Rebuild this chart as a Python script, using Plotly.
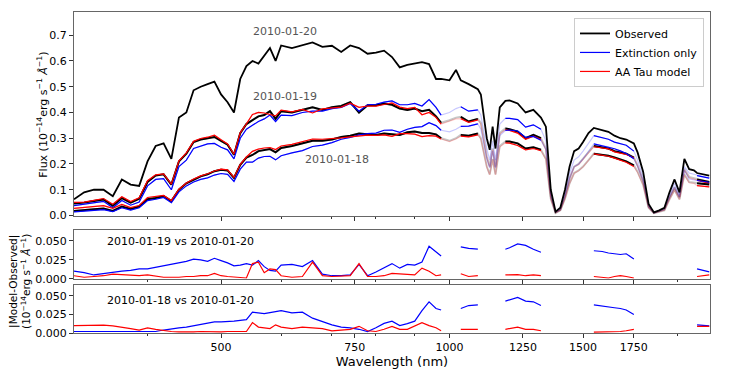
import math
import plotly.graph_objects as go

wavelength = [320, 330, 340, 350, 360, 370, 380, 390, 400, 410,
              420, 430, 440, 450, 460, 470, 480, 490, 500, 510,
              520, 530, 540, 550, 560, 570, 580, 590, 600, 620,
              640, 660, 680, 700, 720, 740, 760, 780, 800, 820,
              840, 860, 880, 900, 920, 940, 960, 975, 1000, 1020,
              1035, 1060, 1090, 1100, 1120, 1130, 1140, 1150, 1165, 1185,
              1200, 1230, 1260, 1290, 1320, 1340, 1360, 1380, 1400, 1420,
              1440, 1460, 1480, 1500, 1525, 1550, 1590, 1620, 1650, 1680,
              1710, 1750, 1770, 1800, 1830, 1860, 1890, 1920, 1950, 1980,
              2010, 2040, 2070, 2100, 2120, 2160, 2200]

# observed spectra
obs_0120 = [0.063, 0.09, 0.10, 0.10, 0.075, 0.14, 0.12, 0.115, 0.21, 0.27,
            0.28, 0.22, 0.38, 0.40, 0.486, 0.50, 0.51, 0.52, 0.47, 0.44,
            0.40, 0.53, 0.58, 0.60, 0.59, 0.62, 0.65, 0.60, 0.66, 0.65,
            0.66, 0.672, 0.655, 0.659, 0.635, 0.66, 0.65, 0.628, 0.632, 0.64,
            0.615, 0.575, 0.585, 0.59, 0.595, 0.588, 0.53, 0.53, 0.525, 0.565,
            0.525, 0.51, 0.49, 0.47, 0.30, 0.255, 0.345, 0.26, 0.42, 0.445,
            0.447, 0.435, 0.40, 0.41, 0.38, 0.345, 0.10, 0.015, 0.03, 0.10,
            0.19, 0.25, 0.26, 0.285, 0.32, 0.34, 0.33, 0.325, 0.31, 0.30,
            0.295, 0.28, 0.245, 0.17, 0.045, 0.012, 0.02, 0.03, 0.09, 0.14,
            0.09, 0.22, 0.18, 0.175, 0.165, 0.16, 0.155]
obs_0119 = [0.047, 0.05, 0.056, 0.062, 0.038, 0.068, 0.05, 0.065, 0.13, 0.155,
            0.16, 0.12, 0.21, 0.24, 0.285, 0.295, 0.30, 0.305, 0.29, 0.275,
            0.236, 0.32, 0.355, 0.37, 0.385, 0.39, 0.405, 0.375, 0.405, 0.40,
            0.41, 0.42, 0.41, 0.42, 0.425, 0.44, 0.40, 0.428, 0.428, 0.435,
            0.43, 0.415, 0.41, 0.415, 0.405, 0.41, 0.385, 0.36, 0.37, 0.38,
            0.383, 0.365, 0.375, 0.36, 0.23, 0.19, 0.26, 0.19, 0.32, 0.338,
            0.335, 0.326, 0.30, 0.313, 0.30, 0.26, 0.075, 0.012, 0.022, 0.075,
            0.145, 0.19, 0.20, 0.22, 0.245, 0.27, 0.265, 0.26, 0.25, 0.245,
            0.24, 0.225, 0.195, 0.135, 0.035, 0.01, 0.016, 0.024, 0.072, 0.11,
            0.072, 0.18, 0.15, 0.145, 0.14, 0.135, 0.13]
obs_0118 = [0.018, 0.02, 0.024, 0.027, 0.018, 0.035, 0.025, 0.035, 0.063, 0.068,
            0.075, 0.056, 0.10, 0.125, 0.14, 0.152, 0.16, 0.172, 0.178, 0.175,
            0.146, 0.197, 0.225, 0.235, 0.25, 0.255, 0.258, 0.245, 0.262, 0.27,
            0.28, 0.29, 0.29, 0.295, 0.305, 0.31, 0.318, 0.315, 0.313, 0.318,
            0.316, 0.313, 0.323, 0.326, 0.32, 0.32, 0.315, 0.30, 0.29, 0.30,
            0.313, 0.31, 0.318, 0.30, 0.19, 0.16, 0.22, 0.16, 0.27, 0.287,
            0.287, 0.28, 0.26, 0.265, 0.255, 0.22, 0.065, 0.01, 0.02, 0.065,
            0.125, 0.165, 0.175, 0.19, 0.215, 0.24, 0.235, 0.232, 0.225, 0.218,
            0.21, 0.195, 0.17, 0.12, 0.03, 0.009, 0.014, 0.02, 0.063, 0.10,
            0.063, 0.16, 0.13, 0.128, 0.125, 0.122, 0.12]

# extinction-only models
ext_0119 = [0.038, 0.043, 0.05, 0.055, 0.03, 0.058, 0.04, 0.052, 0.115, 0.14,
            0.143, 0.10, 0.19, 0.215, 0.26, 0.27, 0.278, 0.28, 0.265, 0.255,
            0.22, 0.30, 0.335, 0.35, 0.365, 0.375, 0.39, 0.365, 0.39, 0.388,
            0.40, 0.405, 0.405, 0.415, 0.42, 0.435, 0.405, 0.43, 0.432, 0.44,
            0.445, 0.43, 0.43, 0.435, 0.425, 0.45, 0.42, 0.39, 0.40, 0.415,
            0.422, 0.405, 0.41, 0.39, 0.26, 0.215, 0.29, 0.215, 0.355, 0.377,
            0.377, 0.372, 0.343, 0.352, 0.335, 0.29, 0.085, 0.013, 0.025, 0.085,
            0.165, 0.215, 0.228, 0.25, 0.28, 0.31, 0.302, 0.296, 0.285, 0.278,
            0.273, 0.25, 0.215, 0.15, 0.04, 0.011, 0.018, 0.027, 0.08, 0.125,
            0.08, 0.19, 0.165, 0.16, 0.155, 0.15, 0.145]
ext_0118 = [0.014, 0.016, 0.02, 0.023, 0.015, 0.03, 0.021, 0.03, 0.058, 0.063,
            0.07, 0.05, 0.092, 0.115, 0.13, 0.14, 0.146, 0.157, 0.163, 0.16,
            0.132, 0.18, 0.207, 0.207, 0.223, 0.229, 0.23, 0.216, 0.232, 0.243,
            0.252, 0.268, 0.273, 0.283, 0.296, 0.303, 0.313, 0.318, 0.32, 0.331,
            0.332, 0.323, 0.335, 0.342, 0.345, 0.36, 0.349, 0.331, 0.325, 0.335,
            0.346, 0.347, 0.356, 0.335, 0.22, 0.185, 0.25, 0.185, 0.31, 0.33,
            0.332, 0.328, 0.303, 0.307, 0.292, 0.255, 0.075, 0.012, 0.022, 0.075,
            0.145, 0.19, 0.20, 0.22, 0.248, 0.278, 0.271, 0.267, 0.259, 0.251,
            0.241, 0.22, 0.19, 0.135, 0.034, 0.01, 0.016, 0.023, 0.071, 0.112,
            0.071, 0.176, 0.142, 0.14, 0.136, 0.132, 0.129]

# AA Tau models
aatau_0119 = [0.051, 0.052, 0.059, 0.066, 0.044, 0.073, 0.054, 0.069, 0.135, 0.158,
              0.162, 0.122, 0.212, 0.243, 0.288, 0.299, 0.304, 0.312, 0.294, 0.278,
              0.238, 0.322, 0.356, 0.392, 0.40, 0.398, 0.392, 0.387, 0.409, 0.402,
              0.412, 0.398, 0.414, 0.417, 0.421, 0.436, 0.42, 0.425, 0.425, 0.431,
              0.437, 0.421, 0.415, 0.42, 0.391, 0.40, 0.381, 0.355, 0.365, 0.375,
              0.376, 0.362, 0.371, 0.355, 0.226, 0.187, 0.256, 0.187, 0.316, 0.333,
              0.33, 0.32, 0.296, 0.308, 0.296, 0.256, 0.074, 0.012, 0.022, 0.074,
              0.143, 0.188, 0.198, 0.218, 0.243, 0.267, 0.263, 0.259, 0.247, 0.241,
              0.237, 0.224, 0.193, 0.133, 0.034, 0.01, 0.016, 0.024, 0.071, 0.108,
              0.071, 0.177, 0.146, 0.141, 0.137, 0.131, 0.125]
aatau_0118 = [0.028, 0.031, 0.035, 0.038, 0.028, 0.043, 0.031, 0.039, 0.07, 0.073,
              0.078, 0.058, 0.102, 0.126, 0.142, 0.154, 0.162, 0.173, 0.18, 0.177,
              0.148, 0.199, 0.227, 0.249, 0.258, 0.262, 0.264, 0.256, 0.27, 0.276,
              0.288, 0.297, 0.296, 0.298, 0.301, 0.305, 0.309, 0.312, 0.311, 0.313,
              0.307, 0.318, 0.318, 0.316, 0.306, 0.31, 0.308, 0.297, 0.287, 0.297,
              0.308, 0.305, 0.313, 0.297, 0.188, 0.158, 0.218, 0.158, 0.266, 0.282,
              0.281, 0.272, 0.255, 0.26, 0.252, 0.218, 0.064, 0.01, 0.02, 0.064,
              0.124, 0.164, 0.174, 0.189, 0.214, 0.239, 0.234, 0.23, 0.223, 0.216,
              0.207, 0.19, 0.167, 0.118, 0.03, 0.009, 0.014, 0.02, 0.062, 0.098,
              0.062, 0.157, 0.127, 0.125, 0.116, 0.113, 0.111]

# |model - observed| residuals (None = masked telluric region)
N = None
res19_ext = [0.010, 0.008, 0.005, 0.007, 0.009, 0.010, 0.011, 0.013, 0.013, 0.015,
             0.017, 0.019, 0.021, 0.023, 0.026, 0.025, 0.023, 0.027, 0.024, 0.021,
             0.017, 0.018, 0.020, 0.018, 0.024, 0.016, 0.011, 0.010, 0.018, 0.019,
             0.016, 0.024, 0.006, 0.004, 0.004, 0.005, 0.019, 0.004, 0.009, 0.015,
             0.020, 0.014, 0.019, 0.018, 0.022, 0.043, 0.036, 0.030, N, N,
             0.042, 0.040, 0.039, N, N, N, N, N, N, 0.039,
             0.041, 0.046, 0.044, 0.039, 0.035, N, N, N, N, N,
             N, N, N, N, N, 0.037, 0.036, 0.034, 0.033, 0.032,
             0.033, 0.026, N, N, N, N, N, N, N, N,
             N, N, N, N, 0.013, 0.011, 0.009]
res19_aatau = [0.004, 0.002, 0.003, 0.004, 0.006, 0.005, 0.004, 0.004, 0.005, 0.003,
               0.002, 0.002, 0.002, 0.003, 0.003, 0.004, 0.004, 0.007, 0.004, 0.003,
               0.002, 0.002, 0.001, 0.020, 0.022, 0.008, 0.013, 0.012, 0.004, 0.002,
               0.003, 0.022, 0.004, 0.003, 0.004, 0.004, 0.020, 0.003, 0.003, 0.004,
               0.007, 0.006, 0.005, 0.005, 0.014, 0.010, 0.004, 0.005, N, N,
               0.0066, 0.003, 0.004, N, N, N, N, N, N, 0.005,
               0.005, 0.0055, 0.004, 0.005, 0.004, N, N, N, N, N,
               N, N, N, N, N, 0.003, 0.002, 0.001, 0.003, 0.004,
               0.003, 0.001, N, N, N, N, N, N, N, N,
               N, N, N, N, 0.003, 0.004, 0.005]
res18_ext = [0.002, 0.002, 0.002, 0.002, 0.002, 0.002, 0.002, 0.002, 0.0015, 0.002,
             0.004, 0.006, 0.007, 0.008, 0.010, 0.012, 0.014, 0.015, 0.015, 0.015,
             0.016, 0.017, 0.018, 0.028, 0.027, 0.026, 0.0275, 0.029, 0.030, 0.027,
             0.028, 0.020, 0.015, 0.011, 0.008, 0.007, 0.005, 0.002, 0.007, 0.013,
             0.016, 0.010, 0.0126, 0.016, 0.030, 0.042, 0.033, 0.031, N, N,
             0.033, 0.037, 0.038, N, N, N, N, N, N, 0.043,
             0.045, 0.048, 0.043, 0.042, 0.037, N, N, N, N, N,
             N, N, N, N, N, 0.038, 0.036, 0.035, 0.034, 0.033,
             0.031, 0.025, N, N, N, N, N, N, N, N,
             N, N, N, N, 0.011, 0.010, 0.0095]
res18_aatau = [0.010, 0.0105, 0.011, 0.0105, 0.0095, 0.008, 0.006, 0.004, 0.007, 0.005,
               0.003, 0.002, 0.0015, 0.0013, 0.0015, 0.002, 0.0015, 0.0013, 0.0015, 0.002,
               0.002, 0.002, 0.002, 0.014, 0.008, 0.007, 0.006, 0.011, 0.008, 0.006,
               0.008, 0.007, 0.006, 0.003, 0.004, 0.005, 0.009, 0.003, 0.002, 0.005,
               0.009, 0.005, 0.005, 0.010, 0.014, 0.010, 0.007, 0.003, N, N,
               0.005, 0.005, 0.005, N, N, N, N, N, N, 0.005,
               0.006, 0.008, 0.005, 0.005, 0.003, N, N, N, N, N,
               N, N, N, N, N, 0.0013, 0.0015, 0.0015, 0.002, 0.002,
               0.003, 0.005, N, N, N, N, N, N, N, N,
               N, N, N, N, 0.009, 0.009, 0.009]

good_ranges = [(320, 975), (1035, 1090), (1185, 1320), (1550, 1750), (2120, 2200)]


def masked(flux):
    out = []
    for w, f in zip(wavelength, flux):
        ok = any(lo <= w <= hi for lo, hi in good_ranges)
        out.append(f if ok else None)
    return out


BLACK = '#000000'
BLUE = '#0000ff'
RED = '#ff0000'
faded = {BLACK: 'rgba(0,0,0,0.22)', BLUE: 'rgba(0,0,255,0.22)', RED: 'rgba(255,0,0,0.22)'}

fig = go.Figure()

series = [(obs_0119, BLACK, 2.0), (ext_0119, BLUE, 1.2), (aatau_0119, RED, 1.2),
          (obs_0118, BLACK, 2.0), (ext_0118, BLUE, 1.2), (aatau_0118, RED, 1.2)]

# faint full curves first (telluric regions), solid segments on top
for flux, color, w in series:
    fig.add_trace(go.Scatter(x=wavelength, y=flux, mode='lines',
                             line=dict(color=faded[color], width=w),
                             showlegend=False, hoverinfo='skip'))

fig.add_trace(go.Scatter(x=wavelength, y=obs_0120, mode='lines',
                         line=dict(color=BLACK, width=1.8),
                         name='Observed', legendrank=1))

names = {BLUE: 'Extinction only', RED: 'AA Tau model'}
shown = set()
for flux, color, w in series:
    leg = color in names and color not in shown
    shown.add(color)
    fig.add_trace(go.Scatter(x=wavelength, y=masked(flux), mode='lines',
                             line=dict(color=color, width=w), connectgaps=False,
                             name=names.get(color, ''), showlegend=leg,
                             legendrank=2 if color == BLUE else 3))

# residual panels
for res, color, ax in [(res19_ext, BLUE, 'y2'), (res19_aatau, RED, 'y2'),
                       (res18_ext, BLUE, 'y3'), (res18_aatau, RED, 'y3')]:
    fig.add_trace(go.Scatter(x=wavelength, y=res, mode='lines', xaxis='x' + ax[1], yaxis=ax,
                             line=dict(color=color, width=1.2), connectgaps=False,
                             showlegend=False))

xcommon = dict(type='log', range=[math.log10(320), math.log10(2205)],
               tickvals=[500, 750, 1000, 1250, 1500, 1750],
               ticktext=['500', '750', '1000', '1250', '1500', '1750'],
               ticks='outside', ticklen=4, tickcolor='#333',
               showline=True, linecolor='#666', linewidth=1, mirror=True,
               showgrid=False, zeroline=False,
               minor=dict(tickvals=[400, 600, 700, 800, 900, 2000], ticks='outside',
                          ticklen=2, tickcolor='#333'))
ycommon = dict(ticks='outside', ticklen=4, tickcolor='#333', showline=True,
               linecolor='#666', linewidth=1, mirror=True, showgrid=False, zeroline=False)

fig.update_layout(
    width=747, height=374,
    margin=dict(l=74, r=37, t=11, b=38),
    paper_bgcolor='white', plot_bgcolor='white',
    font=dict(family='DejaVu Sans', size=11, color='black'),
    xaxis=dict(xcommon, anchor='y', showticklabels=False),
    xaxis2=dict(xcommon, anchor='y2', matches='x', showticklabels=False),
    xaxis3=dict(xcommon, anchor='y3', matches='x',
                title=dict(text='Wavelength (nm)', standoff=0)),
    yaxis=dict(ycommon, domain=[0.366, 1.0], range=[0, 0.79],
               tickvals=[0, 0.1, 0.2, 0.3, 0.4, 0.5, 0.6, 0.7], tickformat='.1f'),
    yaxis2=dict(ycommon, domain=[0.169, 0.32], range=[0, 0.064],
                tickvals=[0, 0.025, 0.05], tickformat='.3f'),
    yaxis3=dict(ycommon, domain=[0, 0.148], range=[0, 0.064],
                tickvals=[0, 0.025, 0.05], tickformat='.3f'),
    legend=dict(x=0.9906, y=0.9815, xanchor='right', yanchor='top',
                bgcolor='rgba(255,255,255,0.9)', bordercolor='#cccccc', borderwidth=1,
                font=dict(size=11), itemwidth=30, tracegroupgap=0),
    showlegend=True,
)

ann_gray = '#555555'
for text, x, y in [('2010-01-20', 0.332, 0.939), ('2010-01-19', 0.332, 0.738),
                   ('2010-01-18', 0.4135, 0.539)]:
    fig.add_annotation(text=text, xref='paper', yref='paper', x=x, y=y,
                       xanchor='center', yanchor='middle', showarrow=False,
                       font=dict(color=ann_gray, size=11))
fig.add_annotation(text='2010-01-19 vs 2010-01-20', xref='paper', yref='paper',
                   x=0.049, y=0.286, xanchor='left', yanchor='middle',
                   showarrow=False, font=dict(size=11))
fig.add_annotation(text='2010-01-18 vs 2010-01-20', xref='paper', yref='paper',
                   x=0.049, y=0.1015, xanchor='left', yanchor='middle',
                   showarrow=False, font=dict(size=11))

unit = '(10<sup>−14</sup>erg s<sup>−1</sup> <i>Å</i><sup>−1</sup>)'
fig.add_annotation(text='Flux ' + unit, xref='paper', yref='paper', x=-0.0487, y=0.68,
                   xanchor='center', yanchor='middle',
                   textangle=-90, showarrow=False, font=dict(size=11))
fig.add_annotation(text='|Model-Observed|<br>' + unit, xref='paper', yref='paper',
                   x=-0.086, y=0.16, xanchor='center', yanchor='middle',
                   textangle=-90, showarrow=False, font=dict(size=10.5))

fig.write_html("out.html", config={'displayModeBar': False},
               post_script="document.body.style.margin='0px';")
